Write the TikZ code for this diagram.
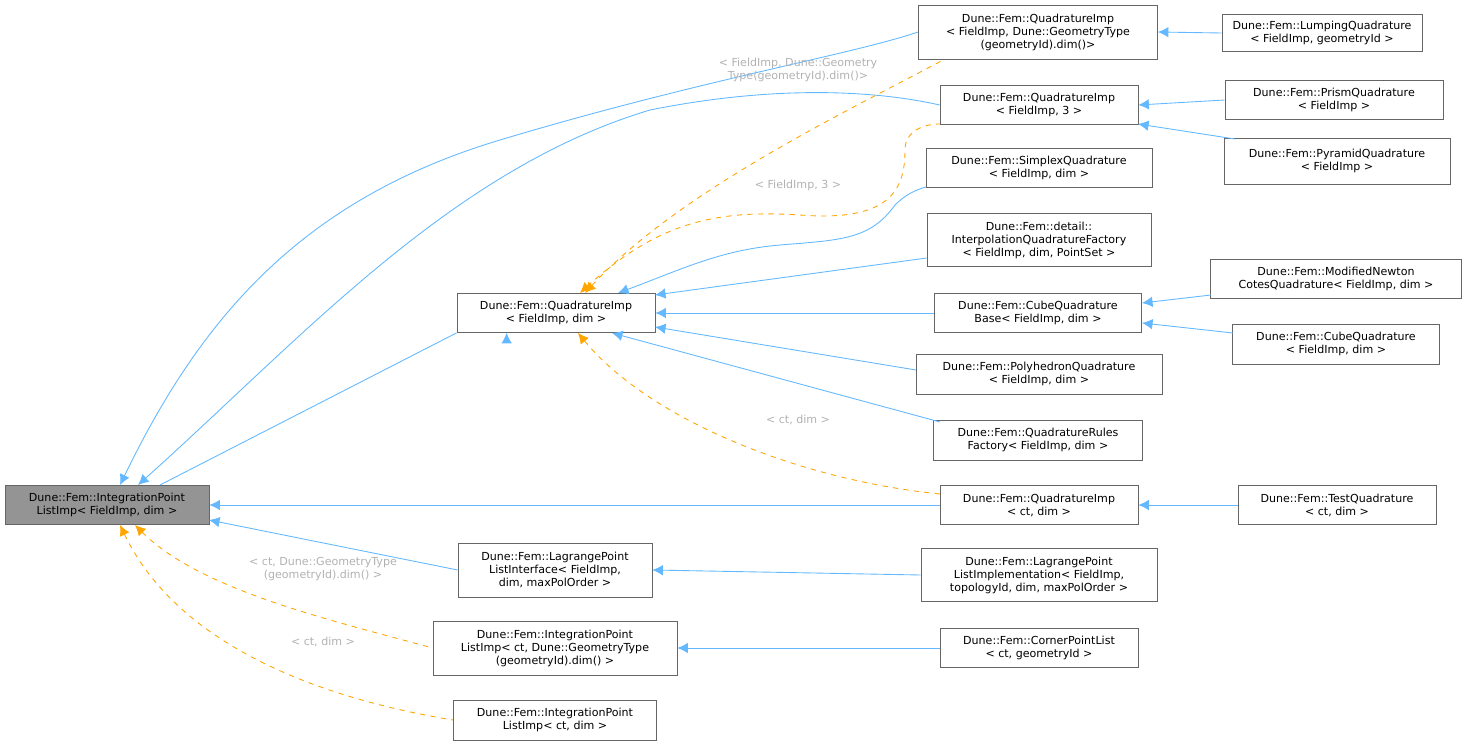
\documentclass[tikz,border=0pt]{standalone}
\usepackage{fontspec}
\setmainfont{DejaVu Sans}
\usetikzlibrary{arrows.meta}
\definecolor{edgeblue}{HTML}{63B8FF}
\definecolor{edgeorange}{HTML}{FFA500}
\tikzset{
  cls/.style={draw=black!60,fill=white,align=center,inner sep=1.5pt,font=\fontsize{6.3}{7.4}\selectfont},
  base/.style={cls,fill=black!42},
  inh/.style={edgeblue,<-,>={Latex[length=6pt,width=6pt]},line width=0.5pt},
  tpl/.style={edgeorange,dashed,<-,>={Latex[length=6pt,width=6pt]},line width=0.5pt},
  lbl/.style={text=black!30,align=center,font=\fontsize{6.3}{7.4}\selectfont}
}
\begin{document}
\begin{tikzpicture}[x=0.02cm,y=-0.02cm]
  \useasboundingbox (0,0) rectangle (1468,746);

  \node[base,minimum width=204*0.02cm,minimum height=39*0.02cm] (ipl) at (107,505) {Dune::Fem::IntegrationPoint\\ListImp< FieldImp, dim >};
  \node[cls,minimum width=198*0.02cm,minimum height=39*0.02cm] (qdim) at (556,313) {Dune::Fem::QuadratureImp\\< FieldImp, dim >};
  \node[cls,minimum width=239*0.02cm,minimum height=54*0.02cm] (qgeom) at (1038,32) {Dune::Fem::QuadratureImp\\< FieldImp, Dune::GeometryType\\(geometryId).dim()>};
  \node[cls,minimum width=200*0.02cm,minimum height=37*0.02cm] (lump) at (1322,33) {Dune::Fem::LumpingQuadrature\\< FieldImp, geometryId >};
  \node[cls,minimum width=198*0.02cm,minimum height=39*0.02cm] (q3) at (1039,105) {Dune::Fem::QuadratureImp\\< FieldImp, 3 >};
  \node[cls,minimum width=218*0.02cm,minimum height=39*0.02cm] (prism) at (1334,100) {Dune::Fem::PrismQuadrature\\< FieldImp >};
  \node[cls,minimum width=226*0.02cm,minimum height=46*0.02cm] (pyr) at (1337,161) {Dune::Fem::PyramidQuadrature\\< FieldImp >};
  \node[cls,minimum width=226*0.02cm,minimum height=39*0.02cm] (simp) at (1039,168) {Dune::Fem::SimplexQuadrature\\< FieldImp, dim >};
  \node[cls,minimum width=224*0.02cm,minimum height=53*0.02cm] (interp) at (1039,240) {Dune::Fem::detail::\\InterpolationQuadratureFactory\\< FieldImp, dim, PointSet >};
  \node[cls,minimum width=207*0.02cm,minimum height=39*0.02cm] (cubeb) at (1038,313) {Dune::Fem::CubeQuadrature\\Base< FieldImp, dim >};
  \node[cls,minimum width=251*0.02cm,minimum height=39*0.02cm] (mnc) at (1336,279) {Dune::Fem::ModifiedNewton\\CotesQuadrature< FieldImp, dim >};
  \node[cls,minimum width=207*0.02cm,minimum height=40*0.02cm] (cube) at (1336,344) {Dune::Fem::CubeQuadrature\\< FieldImp, dim >};
  \node[cls,minimum width=246*0.02cm,minimum height=40*0.02cm] (poly) at (1039,374) {Dune::Fem::PolyhedronQuadrature\\< FieldImp, dim >};
  \node[cls,minimum width=209*0.02cm,minimum height=40*0.02cm] (rules) at (1038,440) {Dune::Fem::QuadratureRules\\Factory< FieldImp, dim >};
  \node[cls,minimum width=198*0.02cm,minimum height=39*0.02cm] (qct) at (1039,505) {Dune::Fem::QuadratureImp\\< ct, dim >};
  \node[cls,minimum width=198*0.02cm,minimum height=39*0.02cm] (test) at (1337,505) {Dune::Fem::TestQuadrature\\< ct, dim >};
  \node[cls,minimum width=194*0.02cm,minimum height=54*0.02cm] (lagif) at (555,570) {Dune::Fem::LagrangePoint\\ListInterface< FieldImp,\\ dim, maxPolOrder >};
  \node[cls,minimum width=236*0.02cm,minimum height=53*0.02cm] (lagimp) at (1039,575) {Dune::Fem::LagrangePoint\\ListImplementation< FieldImp,\\ topologyId, dim, maxPolOrder >};
  \node[cls,minimum width=244*0.02cm,minimum height=54*0.02cm] (iplgeom) at (555,648) {Dune::Fem::IntegrationPoint\\ListImp< ct, Dune::GeometryType\\(geometryId).dim() >};
  \node[cls,minimum width=198*0.02cm,minimum height=39*0.02cm] (corner) at (1039,648) {Dune::Fem::CornerPointList\\< ct, geometryId >};
  \node[cls,minimum width=203*0.02cm,minimum height=40*0.02cm] (iplct) at (555,720) {Dune::Fem::IntegrationPoint\\ListImp< ct, dim >};

  % edges into the base class
  \draw[inh] (120,485) .. controls (200,320) and (300,200) .. (500,140) .. controls (700,80) and (850,55) .. (qgeom.west);
  \draw[inh] (138,485) .. controls (300,340) and (450,170) .. (650,110) .. controls (800,80) and (900,96) .. (q3.west);
  \draw[inh] (160,485) -- (qdim.south west) ++(50,0);
  \draw[inh] (ipl.east) -- (qct.west);
  \draw[inh] (209,520) -- (lagif.west);
  \draw[tpl] (135,525) .. controls (200,590) and (330,620) .. (iplgeom.west);
  \draw[tpl] (120,525) .. controls (180,650) and (330,700) .. (iplct.west);

  % edges into QuadratureImp< FieldImp, dim >
  \draw[tpl] (585,293) .. controls (680,190) and (850,110) .. (945,59);
  \draw[tpl] (580,293) .. controls (660,220) and (720,210) .. (800,215) .. controls (890,222) and (905,190) .. (905,150) .. controls (905,130) and (925,124) .. (940,124);
  \draw[inh] (618,293) .. controls (680,270) and (720,250) .. (780,245) .. controls (840,240) and (870,240) .. (895,205) .. controls (905,195) and (915,190) .. (926,187);
  \draw[inh] (655,295) -- (interp.west |- 0,258);
  \draw[inh] (qdim.east) -- (cubeb.west);
  \draw[inh] (655,327) -- (916,370);
  \draw[inh] (612,333) -- (940,422);
  \draw[tpl] (578,333) .. controls (650,420) and (800,480) .. (940,494);

  % remaining inheritance
  \draw[inh] (qgeom.east) -- (lump.west);
  \draw[inh] (q3.east) -- (prism.west);
  \draw[inh] (1138,124) -- (1235,139);
  \draw[inh] (1142,303) -- (1211,295);
  \draw[inh] (1142,323) -- (1233,333);
  \draw[inh] (qct.east) -- (test.west);
  \draw[inh] (lagif.east) -- (lagimp.west);
  \draw[inh] (iplgeom.east) -- (corner.west);

  % template labels
  \node[lbl] (l1) at (798,70) {< FieldImp, Dune::Geometry\\Type(geometryId).dim()>};
  \node[lbl] (l2) at (798,185) {< FieldImp, 3 >};
  \node[lbl] (l3) at (798,420) {< ct, dim >};
  \node[lbl] (l4) at (323,569) {< ct, Dune::GeometryType\\(geometryId).dim() >};
  \node[lbl] (l5) at (323,642) {< ct, dim >};
\end{tikzpicture}
\end{document}
